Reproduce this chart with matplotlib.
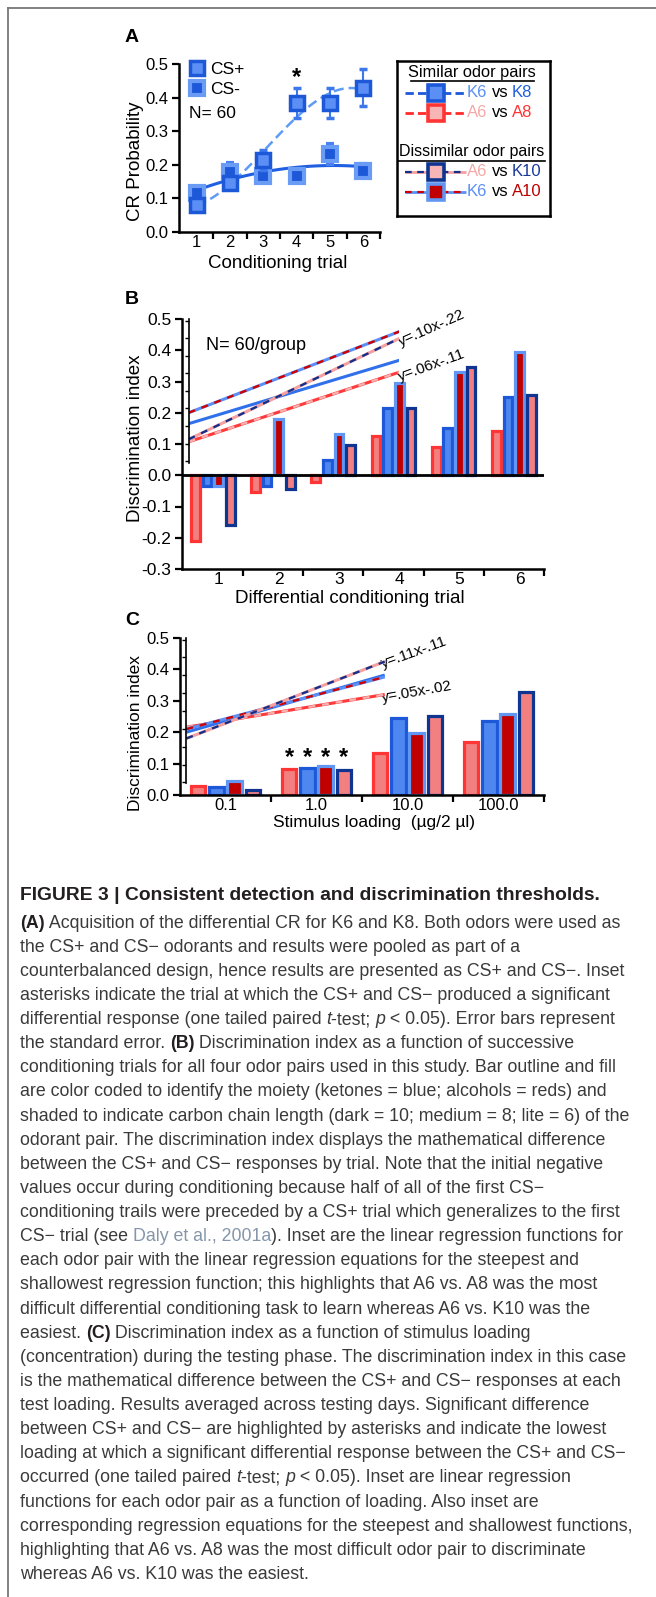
import numpy as np
import matplotlib
matplotlib.use("Agg")
import matplotlib.pyplot as plt
import matplotlib.transforms as mtransforms
from matplotlib.lines import Line2D
from matplotlib.ticker import FormatStrFormatter

plt.rcParams['font.family'] = ['Liberation Sans', 'DejaVu Sans']

# ---------------- data ----------------
trials = [1, 2, 3, 4, 5, 6]
cs_plus = [0.08, 0.146, 0.215, 0.384, 0.384, 0.43]
cs_plus_err = [0.012, 0.015, 0.03, 0.045, 0.045, 0.055]
cs_minus = [0.116, 0.18, 0.166, 0.166, 0.232, 0.183]
cs_minus_err = [0.012, 0.025, 0.015, 0.015, 0.03, 0.02]
star_trial = 4

pairs = ["A6 vs A8", "K6 vs K8", "K6 vs A10", "A6 vs K10"]

# panel B: discrimination index by trial
b_a6a8 = [-0.21, -0.055, -0.02, 0.125, 0.09, 0.143]
b_k6k8 = [-0.035, -0.035, 0.05, 0.215, 0.152, 0.25]
b_k6a10 = [-0.035, 0.18, 0.132, 0.295, 0.33, 0.395]
b_a6k10 = [-0.16, -0.045, 0.098, 0.215, 0.345, 0.257]
b_reg_start = [0.107, 0.165, 0.20, 0.115]
b_reg_end = [0.33, 0.368, 0.46, 0.438]
b_eq = ["y=.10x-.22", "y=.06x-.11"]

# panel C: discrimination index by loading
loadings = ["0.1", "1.0", "10.0", "100.0"]
c_a6a8 = [0.028, 0.082, 0.135, 0.168]
c_k6k8 = [0.027, 0.087, 0.245, 0.237]
c_k6a10 = [0.043, 0.093, 0.198, 0.257]
c_a6k10 = [0.015, 0.081, 0.252, 0.327]
c_star_group = 2
c_reg_start = [0.216, 0.20, 0.21, 0.18]
c_reg_end = [0.32, 0.382, 0.376, 0.425]
c_eq = ["y=.11x-.11", "y=.05x-.02"]

# ---------------- styles ----------------
edge_col = ['#ff3535', '#1c58d8', '#6196f2', '#0f3590']
fill_col = ['#f28080', '#4f87f0', '#c00000', '#f28080']
line_base = ['#ff3a3a', '#3070ea', '#5b8ff5', '#f5a0a0']
line_dash = ['#f7b0b0', None, '#d00000', '#12308a']

W, H = 656, 1597
fig = plt.figure(figsize=(W / 100, H / 100), dpi=100)


def fx(px):
    return px / W


def fy(py):
    return 1 - py / H


def two_tone(ax, x, y, base, dash, lw=2.2):
    ax.plot(x, y, color=base, lw=lw, solid_capstyle='butt')
    if dash:
        ax.plot(x, y, color=dash, lw=lw * 0.75, dashes=(3, 3))


def style_axis(ax, fs):
    for s in ['top', 'right']:
        ax.spines[s].set_visible(False)
    for s in ['left', 'bottom']:
        ax.spines[s].set_linewidth(1.8)
    ax.tick_params(which='both', width=1.6, labelsize=fs, direction='out', pad=2.5)
    ax.tick_params(which='major', length=5)
    ax.tick_params(which='minor', length=5)


# ---------------- panel A ----------------
axA = fig.add_axes([fx(179), fy(232), fx(380 - 179), (232 - 64) / H])
xs = np.linspace(1, 6, 100)
axA.plot(xs, np.polyval(np.polyfit(trials, cs_plus, 3), xs), color='#5e9cf5', lw=1.8, dashes=(4, 2))
axA.plot(xs, np.polyval(np.polyfit(trials, cs_minus, 2), xs), color='#1f5fe0', lw=2.2)
axA.errorbar(trials, cs_minus, yerr=cs_minus_err, fmt='s', ms=10.5, mfc='#1c58d8', mec='#6a9cf5',
             mew=3, ecolor='#4a80f0', elinewidth=1.5, capsize=3, capthick=1.5, zorder=3)
axA.errorbar(trials, cs_plus, yerr=cs_plus_err, fmt='s', ms=10.5, mfc='#5b8ff5', mec='#1c58d8',
             mew=2.5, ecolor='#3c78ec', elinewidth=1.5, capsize=3, capthick=1.5, zorder=4)
axA.set_xlim(0.47, 6.5)
axA.set_ylim(0, 0.5)
style_axis(axA, 12)
axA.set_xticks(trials)
axA.set_xticks(np.array(trials) + 0.5, minor=True)
axA.tick_params(axis='x', which='major', length=0)
axA.set_yticks([0, 0.1, 0.2, 0.3, 0.4, 0.5])
axA.yaxis.set_major_formatter(FormatStrFormatter('%.1f'))
axA.set_xlabel('Conditioning trial', fontsize=13.5)
axA.set_ylabel('CR Probability', fontsize=13.5)
axA.xaxis.label.set_verticalalignment('center')
axA.yaxis.label.set_verticalalignment('center')
axA.xaxis.set_label_coords(0.49, -0.185)
axA.yaxis.set_label_coords(-0.215, 0.42)
axA.text(star_trial, cs_plus[star_trial - 1] + 0.075, '*', ha='center', va='center',
         fontsize=17, fontweight='bold')
hA = [Line2D([], [], ls='none', marker='s', ms=10.5, mfc='#5b8ff5', mec='#1c58d8', mew=2.5),
      Line2D([], [], ls='none', marker='s', ms=10.5, mfc='#1c58d8', mec='#6a9cf5', mew=3)]
axA.legend(hA, ['CS+', 'CS-'], loc='upper left', bbox_to_anchor=(0.045, 1.01), frameon=False,
           fontsize=12.5, handlelength=1.0, handletextpad=0.3, borderpad=0, borderaxespad=0,
           labelspacing=0.25)
axA.text(0.76, 0.354, 'N= 60', fontsize=12.5, va='center', ha='left')

# ---------------- legend box ----------------
lg = fig.add_axes([fx(397), fy(216), fx(550 - 397), (216 - 61) / H])
lg.set_xlim(0, 1)
lg.set_ylim(0, 1)
lg.set_xticks([])
lg.set_yticks([])
for s in lg.spines.values():
    s.set_linewidth(1.8)
lg.text(0.49, 0.929, 'Similar odor pairs', ha='center', va='center', fontsize=11.8)
lg.plot([0.09, 0.895], [0.868, 0.868], color='black', lw=1.2)
lg.text(0.49, 0.419, 'Dissimilar odor pairs', ha='center', va='center', fontsize=11.5)
lg.plot([0.0, 0.967], [0.358, 0.358], color='black', lw=1.2)
leg_rows = [("K6", "K8"), ("A6", "A8"), ("A6", "K10"), ("K6", "A10")]
leg_text_col = {"K6": '#5b8ff5', "K8": '#1f5fe0', "A6": '#f5a8a8', "A8": '#ff3333',
                "K10": '#1a3a9a', "A10": '#c00000'}
leg_line_base = ['#1c58d8', '#ff2a2a', '#f5a0a0', '#5b8ff5']
leg_line_dash = [None, None, '#12308a', '#d00000']
leg_order = [1, 0, 3, 2]
row_y = [0.794, 0.665, 0.284, 0.155]
for r, (a, b) in enumerate(leg_rows):
    k = leg_order[r]
    y = row_y[r]
    if leg_line_dash[r]:
        lg.plot([0.052, 0.45], [y, y], color=leg_line_base[r], lw=2, solid_capstyle='butt')
        lg.plot([0.052, 0.45], [y, y], color=leg_line_dash[r], lw=1.6, dashes=(3, 2.5))
    else:
        lg.plot([0.052, 0.45], [y, y], color=leg_line_base[r], lw=2, dashes=(3, 1.5))
    face = '#f7b5b5' if fill_col[k] == '#f28080' else ('#5b8ff5' if k == 1 else fill_col[k])
    lg.plot([0.255], [y], marker='s', ms=11, mfc=face, mec=edge_col[k], mew=2.6, ls='none')
    lg.text(0.458, y, a, color=leg_text_col[a], fontsize=12, va='center')
    lg.text(0.62, y, 'vs', color='black', fontsize=12, va='center')
    lg.text(0.752, y, b, color=leg_text_col[b], fontsize=12, va='center')

# ---------------- panel B ----------------
axB = fig.add_axes([fx(182), fy(569), fx(544 - 182), (569 - 319) / H])
offB = [-0.29, -0.097, 0.097, 0.29]
for k, vals in enumerate([b_a6a8, b_k6k8, b_k6a10, b_a6k10]):
    axB.bar(np.array(trials) + offB[k], vals, width=0.145, color=fill_col[k],
            edgecolor=edge_col[k], linewidth=2.3, zorder=2)
axB.axhline(0, color='black', lw=2, zorder=3)
axB.set_xlim(0.49, 6.5)
axB.set_ylim(-0.3, 0.5)
style_axis(axB, 12.5)
axB.set_xticks(trials)
axB.set_xticks(np.array(trials) + 0.5, minor=True)
axB.tick_params(axis='x', which='major', length=0)
axB.set_yticks(np.round(np.arange(-0.3, 0.51, 0.1), 1))
axB.yaxis.set_major_formatter(FormatStrFormatter('%.1f'))
shift = mtransforms.ScaledTranslation(0.06, 0, fig.dpi_scale_trans)
for lab in axB.get_xticklabels():
    lab.set_transform(lab.get_transform() + shift)
axB.set_xlabel('Differential conditioning trial', fontsize=13.5)
axB.set_ylabel('Discrimination index', fontsize=13.5)
axB.xaxis.label.set_verticalalignment('center')
axB.yaxis.label.set_verticalalignment('center')
axB.xaxis.set_label_coords(0.464, -0.118)
axB.yaxis.set_label_coords(-0.128, 0.524)
axB.text(0.885, 0.416, 'N= 60/group', fontsize=13, va='center', ha='left')

inB = axB.inset_axes([0.6, 0.04, 3.5, 0.46], transform=axB.transData)
inB.set_xlim(0, 1)
inB.set_ylim(0.04, 0.5)
inB.patch.set_alpha(0)
for s in ['top', 'right', 'bottom']:
    inB.spines[s].set_visible(False)
inB.spines['left'].set_linewidth(1.2)
inB.set_xticks([])
inB.set_yticks(np.linspace(0.045, 0.495, 9))
inB.tick_params(axis='y', length=3, width=1, labelleft=False)
for k in [0, 1, 3, 2]:
    two_tone(inB, [0, 1], [b_reg_start[k], b_reg_end[k]], line_base[k], line_dash[k])
axB.text(4.12, b_reg_end[3] - 0.025, b_eq[0], rotation=24, rotation_mode='anchor',
         ha='left', va='baseline', fontsize=11)
axB.text(4.1, b_reg_end[0] - 0.03, b_eq[1], rotation=20, rotation_mode='anchor',
         ha='left', va='baseline', fontsize=11)

# ---------------- panel C ----------------
axC = fig.add_axes([fx(180), fy(795), fx(544 - 180), (795 - 638) / H])
groups = np.arange(1, len(loadings) + 1)
offC = [-0.30, -0.10, 0.10, 0.30]
c_all = [c_a6a8, c_k6k8, c_k6a10, c_a6k10]
for k, vals in enumerate(c_all):
    axC.bar(groups + offC[k], vals, width=0.16, color=fill_col[k],
            edgecolor=edge_col[k], linewidth=2.3, zorder=2)
axC.set_xlim(0.5, 4.5)
axC.set_ylim(0, 0.5)
style_axis(axC, 12)
axC.set_xticks(groups)
axC.set_xticklabels(loadings)
axC.set_xticks(groups + 0.5, minor=True)
axC.tick_params(axis='x', which='major', length=0)
axC.set_yticks([0, 0.1, 0.2, 0.3, 0.4, 0.5])
axC.yaxis.set_major_formatter(FormatStrFormatter('%.1f'))
axC.set_xlabel('Stimulus loading  (\u00b5g/2 \u00b5l)', fontsize=12.5)
axC.set_ylabel('Discrimination index', fontsize=12.5)
axC.xaxis.label.set_verticalalignment('center')
axC.yaxis.label.set_verticalalignment('center')
axC.xaxis.set_label_coords(0.533, -0.172)
axC.yaxis.set_label_coords(-0.122, 0.395)
for k, vals in enumerate(c_all):
    axC.text(c_star_group + offC[k], 0.118, '*', ha='center', va='center',
             fontsize=17, fontweight='bold')

inC = axC.inset_axes([0.57, 0.037, 2.18, 0.463], transform=axC.transData)
inC.set_xlim(0, 1)
inC.set_ylim(0.037, 0.5)
inC.patch.set_alpha(0)
for s in ['top', 'right', 'bottom']:
    inC.spines[s].set_visible(False)
inC.spines['left'].set_linewidth(1.2)
inC.set_xticks([])
inC.set_yticks(np.linspace(0.04, 0.495, 9))
inC.tick_params(axis='y', length=3, width=1, labelleft=False)
for k in [0, 1, 2, 3]:
    two_tone(inC, [0, 1], [c_reg_start[k], c_reg_end[k]], line_base[k], line_dash[k])
axC.text(2.73, 0.405, c_eq[0], rotation=20, rotation_mode='anchor',
         ha='left', va='baseline', fontsize=11)
axC.text(2.73, 0.295, c_eq[1], rotation=10, rotation_mode='anchor',
         ha='left', va='baseline', fontsize=11)

# panel letters
for lab, py in [('A', 37), ('B', 300), ('C', 620)]:
    fig.text(fx(132), fy(py), lab, fontsize=14, fontweight='bold', ha='center', va='center')

# border
fig.add_artist(Line2D([fx(8), 1], [fy(8), fy(8)], color='#777777', lw=1.3))
fig.add_artist(Line2D([fx(8), fx(8)], [fy(8), 0], color='#777777', lw=1.3))

# ---------------- caption ----------------
FS = 12.8
body = dict(color='#3a3a3a', fontsize=FS)
styles = {
    'n': body,
    'b': dict(color='#231f20', fontsize=FS, fontweight='bold'),
    'i': dict(color='#3a3a3a', fontsize=FS, fontstyle='italic'),
    'l': dict(color='#8596aa', fontsize=FS),
    'T': dict(color='#231f20', fontsize=13.9, fontweight='bold'),
}
M = "\u2212"
caption = [
    [("FIGURE 3 | Consistent detection and discrimination thresholds.", 'T')],
    [("(A)", 'b'), (" Acquisition of the differential CR for K6 and K8. Both odors were used as", 'n')],
    [(f"the CS+ and CS{M} odorants and results were pooled as part of a", 'n')],
    [(f"counterbalanced design, hence results are presented as CS+ and CS{M}. Inset", 'n')],
    [(f"asterisks indicate the trial at which the CS+ and CS{M} produced a significant", 'n')],
    [("differential response (one tailed paired ", 'n'), ("t", 'i'), ("-test; ", 'n'), ("p", 'i'),
     (" < 0.05). Error bars represent", 'n')],
    [("the standard error. ", 'n'), ("(B)", 'b'), (" Discrimination index as a function of successive", 'n')],
    [("conditioning trials for all four odor pairs used in this study. Bar outline and fill", 'n')],
    [("are color coded to identify the moiety (ketones = blue; alcohols = reds) and", 'n')],
    [("shaded to indicate carbon chain length (dark = 10; medium = 8; lite = 6) of the", 'n')],
    [("odorant pair. The discrimination index displays the mathematical difference", 'n')],
    [(f"between the CS+ and CS{M} responses by trial. Note that the initial negative", 'n')],
    [(f"values occur during conditioning because half of all of the first CS{M}", 'n')],
    [("conditioning trails were preceded by a CS+ trial which generalizes to the first", 'n')],
    [(f"CS{M} trial (see ", 'n'), ("Daly et al., 2001a", 'l'), ("). Inset are the linear regression functions for", 'n')],
    [("each odor pair with the linear regression equations for the steepest and", 'n')],
    [("shallowest regression function; this highlights that A6 vs. A8 was the most", 'n')],
    [("difficult differential conditioning task to learn whereas A6 vs. K10 was the", 'n')],
    [("easiest. ", 'n'), ("(C)", 'b'), (" Discrimination index as a function of stimulus loading", 'n')],
    [("(concentration) during the testing phase. The discrimination index in this case", 'n')],
    [(f"is the mathematical difference between the CS+ and CS{M} responses at each", 'n')],
    [("test loading. Results averaged across testing days. Significant difference", 'n')],
    [(f"between CS+ and CS{M} are highlighted by asterisks and indicate the lowest", 'n')],
    [(f"loading at which a significant differential response between the CS+ and CS{M}", 'n')],
    [("occurred (one tailed paired ", 'n'), ("t", 'i'), ("-test; ", 'n'), ("p", 'i'),
     (" < 0.05). Inset are linear regression", 'n')],
    [("functions for each odor pair as a function of loading. Also inset are", 'n')],
    [("corresponding regression equations for the steepest and shallowest functions,", 'n')],
    [("highlighting that A6 vs. A8 was the most difficult odor pair to discriminate", 'n')],
    [("whereas A6 vs. K10 was the easiest.", 'n')],
]

renderer = fig.canvas.get_renderer()


def run_width(s, props):
    t = fig.text(0, 0, s + "|", **props)
    w1 = t.get_window_extent(renderer).width
    t.set_text("|")
    w2 = t.get_window_extent(renderer).width
    t.remove()
    return w1 - w2


for i, runs in enumerate(caption):
    ypx = 894 if i == 0 else 921 + (i - 1) * 24.13
    xpx = 20
    for s, st in runs:
        fig.text(fx(xpx), fy(ypx), s, va='center_baseline', ha='left', **styles[st])
        xpx += run_width(s, styles[st])

fig.savefig('out.png', dpi=100)
